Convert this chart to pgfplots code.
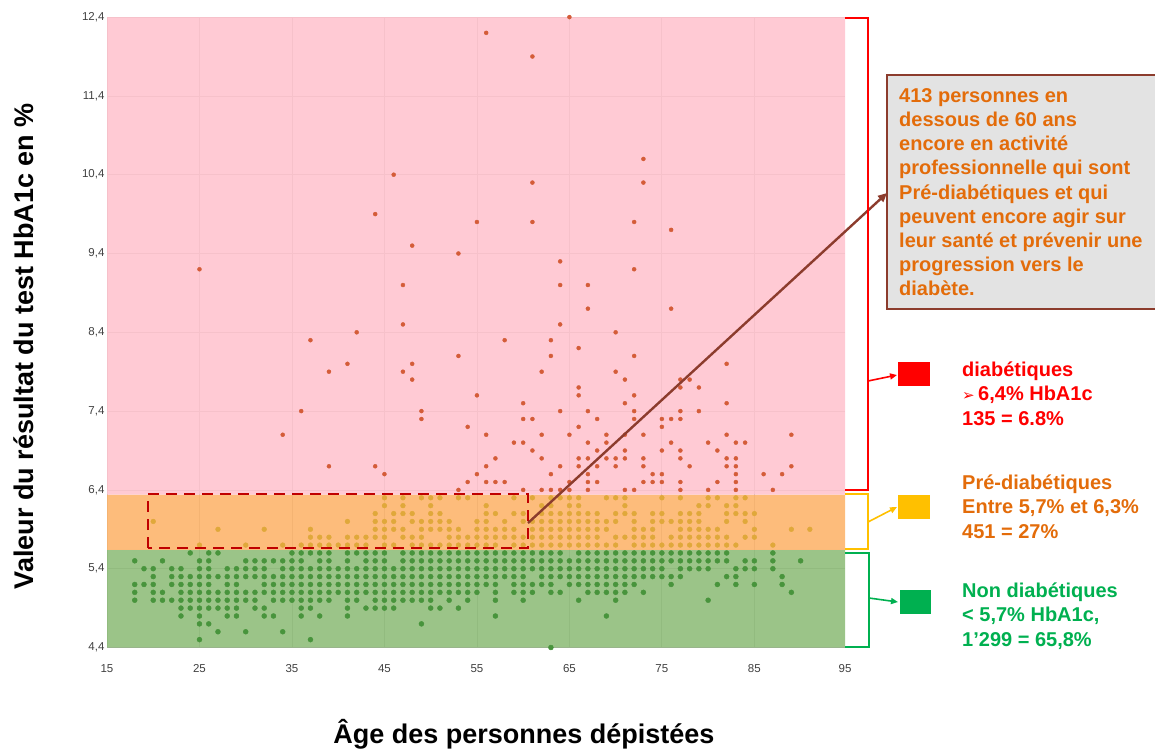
\documentclass[border=0pt]{standalone}
\usepackage{pgfplots}
\pgfplotsset{compat=1.18}
\usepackage{fontspec}
\setmainfont{Liberation Sans}
\newfontfamily\symb{DejaVu Sans}
\usetikzlibrary{arrows.meta}

\definecolor{bandpink}{RGB}{255,196,207}
\definecolor{bandorange}{RGB}{253,181,109}
\definecolor{bandgreen}{RGB}{144,190,123}
\definecolor{dotgreen}{RGB}{72,148,60}
\definecolor{dotorange}{RGB}{224,168,58}
\definecolor{dotred}{RGB}{212,92,56}
\definecolor{txtorange}{RGB}{227,108,10}
\definecolor{txtgreen}{RGB}{0,176,80}
\definecolor{brk}{RGB}{255,192,0}
\definecolor{arrowbrown}{RGB}{140,60,45}
\definecolor{dashred}{RGB}{192,0,0}

\begin{document}
\begin{tikzpicture}[x=1pt,y=-1pt]
\path[use as bounding box] (0,0) rectangle (1155,749);

\begin{axis}[
    at={(107pt,-647.5pt)},
    anchor=south west,
    scale only axis,
    width=738pt,
    height=630.4pt,
    xmin=15,xmax=94.8,
    ymin=4.4,ymax=12.4,
    xtick={15,25,...,85},
    ytick={4.4,5.4,...,12.4},
    yticklabels={{4,4},{5,4},{6,4},{7,4},{8,4},{9,4},{10,4},{11,4},{12,4}},
    clip=false,
    axis line style={draw=none},
    major tick length=0pt,
    grid=major,
    grid style={gray!70,line width=0.8pt},
    /pgf/number format/assume math mode=true,
    ticklabel style={font=\fontsize{11.5}{13}\selectfont,text=black!75},
    xticklabel style={yshift=-13pt,text height=8pt,text depth=0pt},
    yticklabel style={xshift=1pt},
    xlabel={\textbf{Âge des personnes dépistées}},
    xlabel style={at={(axis description cs:0.565,-0.137)},anchor=center,font=\fontsize{27}{30}\selectfont},
    ylabel={\textbf{Valeur du résultat du test HbA1c en \%}},
    ylabel style={at={(axis description cs:-0.1135,0.478)},anchor=center,font=\fontsize{27}{30}\selectfont},
]
% bands
\addplot[draw=none,fill=bandgreen,fill opacity=0.9] coordinates {(15,4.4) (94.8,4.4) (94.8,5.64) (15,5.64) (15,4.4)};
\addplot[draw=none,fill=bandorange,fill opacity=0.9] coordinates {(15,5.64) (94.8,5.64) (94.8,6.34) (15,6.34) (15,5.64)};
\addplot[draw=none,fill=bandpink,fill opacity=0.9] coordinates {(15,6.34) (94.8,6.34) (94.8,12.4) (15,12.4) (15,6.34)};

% non diabetiques
\addplot[only marks,mark=*,mark size=2.5pt,mark options={draw=dotgreen,fill=dotgreen,line width=0.4pt}] table[row sep=\\] {
x y\\
24 5.6\\ 26 5.6\\ 27 5.6\\ 35 5.6\\ 36 5.6\\ 37 5.6\\ 38 5.6\\ 39 5.6\\ 41 5.6\\ 42 5.6\\ 43 5.6\\ 44 5.6\\ 45 5.6\\ 47 5.6\\ 48 5.6\\ 49 5.6\\ 50 5.6\\ 51 5.6\\ 52 5.6\\ 53 5.6\\ 54 5.6\\ 55 5.6\\ 56 5.6\\ 57 5.6\\ 58 5.6\\ 59 5.6\\ 60 5.6\\ 61 5.6\\ 62 5.6\\ 63 5.6\\ 64 5.6\\ 66 5.6\\ 67 5.6\\ 68 5.6\\ 69 5.6\\ 70 5.6\\ 71 5.6\\ 72 5.6\\ 73 5.6\\ 74 5.6\\ 75 5.6\\ 76 5.6\\ 77 5.6\\ 78 5.6\\ 79 5.6\\ 80 5.6\\ 81 5.6\\ 82 5.6\\ 87 5.6\\
18 5.5\\ 21 5.5\\ 25 5.5\\ 26 5.5\\ 30 5.5\\ 31 5.5\\ 32 5.5\\ 33 5.5\\ 34 5.5\\ 35 5.5\\ 36 5.5\\ 38 5.5\\ 39 5.5\\ 41 5.5\\ 43 5.5\\ 44 5.5\\ 45 5.5\\ 47 5.5\\ 48 5.5\\ 49 5.5\\ 50 5.5\\ 51 5.5\\ 52 5.5\\ 53 5.5\\ 54 5.5\\ 55 5.5\\ 56 5.5\\ 57 5.5\\ 58 5.5\\ 59 5.5\\ 60 5.5\\ 61 5.5\\ 62 5.5\\ 63 5.5\\ 64 5.5\\ 65 5.5\\ 66 5.5\\ 67 5.5\\ 68 5.5\\ 69 5.5\\ 70 5.5\\ 71 5.5\\ 72 5.5\\ 73 5.5\\ 74 5.5\\ 75 5.5\\ 76 5.5\\ 77 5.5\\ 78 5.5\\ 79 5.5\\ 80 5.5\\ 81 5.5\\ 82 5.5\\ 84 5.5\\ 85 5.5\\ 87 5.5\\ 90 5.5\\
19 5.4\\ 20 5.4\\ 22 5.4\\ 23 5.4\\ 25 5.4\\ 26 5.4\\ 28 5.4\\ 29 5.4\\ 30 5.4\\ 31 5.4\\ 32 5.4\\ 34 5.4\\ 35 5.4\\ 36 5.4\\ 37 5.4\\ 38 5.4\\ 39 5.4\\ 40 5.4\\ 41 5.4\\ 42 5.4\\ 43 5.4\\ 44 5.4\\ 45 5.4\\ 46 5.4\\ 47 5.4\\ 48 5.4\\ 49 5.4\\ 50 5.4\\ 51 5.4\\ 52 5.4\\ 53 5.4\\ 54 5.4\\ 55 5.4\\ 56 5.4\\ 57 5.4\\ 58 5.4\\ 59 5.4\\ 60 5.4\\ 61 5.4\\ 62 5.4\\ 63 5.4\\ 64 5.4\\ 65 5.4\\ 66 5.4\\ 67 5.4\\ 68 5.4\\ 69 5.4\\ 70 5.4\\ 71 5.4\\ 72 5.4\\ 73 5.4\\ 74 5.4\\ 75 5.4\\ 77 5.4\\ 78 5.4\\ 79 5.4\\ 80 5.4\\ 83 5.4\\ 84 5.4\\ 85 5.4\\ 87 5.4\\
20 5.3\\ 22 5.3\\ 23 5.3\\ 24 5.3\\ 25 5.3\\ 26 5.3\\ 27 5.3\\ 28 5.3\\ 29 5.3\\ 30 5.3\\ 31 5.3\\ 32 5.3\\ 33 5.3\\ 34 5.3\\ 35 5.3\\ 36 5.3\\ 37 5.3\\ 38 5.3\\ 39 5.3\\ 40 5.3\\ 41 5.3\\ 42 5.3\\ 43 5.3\\ 44 5.3\\ 45 5.3\\ 46 5.3\\ 47 5.3\\ 48 5.3\\ 49 5.3\\ 50 5.3\\ 51 5.3\\ 52 5.3\\ 53 5.3\\ 54 5.3\\ 55 5.3\\ 56 5.3\\ 57 5.3\\ 58 5.3\\ 59 5.3\\ 60 5.3\\ 62 5.3\\ 63 5.3\\ 64 5.3\\ 65 5.3\\ 66 5.3\\ 67 5.3\\ 68 5.3\\ 69 5.3\\ 70 5.3\\ 71 5.3\\ 72 5.3\\ 73 5.3\\ 74 5.3\\ 75 5.3\\ 76 5.3\\ 77 5.3\\ 82 5.3\\ 83 5.3\\ 88 5.3\\
18 5.2\\ 19 5.2\\ 20 5.2\\ 22 5.2\\ 23 5.2\\ 24 5.2\\ 25 5.2\\ 26 5.2\\ 28 5.2\\ 29 5.2\\ 32 5.2\\ 33 5.2\\ 34 5.2\\ 35 5.2\\ 36 5.2\\ 37 5.2\\ 38 5.2\\ 39 5.2\\ 40 5.2\\ 41 5.2\\ 42 5.2\\ 43 5.2\\ 44 5.2\\ 45 5.2\\ 46 5.2\\ 47 5.2\\ 48 5.2\\ 49 5.2\\ 50 5.2\\ 51 5.2\\ 52 5.2\\ 53 5.2\\ 54 5.2\\ 55 5.2\\ 56 5.2\\ 57 5.2\\ 59 5.2\\ 60 5.2\\ 61 5.2\\ 62 5.2\\ 63 5.2\\ 65 5.2\\ 66 5.2\\ 67 5.2\\ 68 5.2\\ 69 5.2\\ 70 5.2\\ 71 5.2\\ 72 5.2\\ 76 5.2\\ 81 5.2\\ 83 5.2\\ 85 5.2\\ 88 5.2\\
18 5.1\\ 20 5.1\\ 21 5.1\\ 23 5.1\\ 24 5.1\\ 25 5.1\\ 26 5.1\\ 27 5.1\\ 28 5.1\\ 29 5.1\\ 30 5.1\\ 31 5.1\\ 32 5.1\\ 33 5.1\\ 34 5.1\\ 35 5.1\\ 36 5.1\\ 37 5.1\\ 38 5.1\\ 39 5.1\\ 40 5.1\\ 41 5.1\\ 42 5.1\\ 43 5.1\\ 44 5.1\\ 45 5.1\\ 46 5.1\\ 47 5.1\\ 48 5.1\\ 49 5.1\\ 50 5.1\\ 51 5.1\\ 52 5.1\\ 53 5.1\\ 54 5.1\\ 55 5.1\\ 57 5.1\\ 59 5.1\\ 60 5.1\\ 61 5.1\\ 63 5.1\\ 64 5.1\\ 67 5.1\\ 68 5.1\\ 69 5.1\\ 70 5.1\\ 71 5.1\\ 73 5.1\\ 89 5.1\\
18 5.0\\ 20 5.0\\ 21 5.0\\ 22 5.0\\ 23 5.0\\ 24 5.0\\ 25 5.0\\ 26 5.0\\ 27 5.0\\ 28 5.0\\ 29 5.0\\ 30 5.0\\ 31 5.0\\ 33 5.0\\ 34 5.0\\ 35 5.0\\ 36 5.0\\ 37 5.0\\ 38 5.0\\ 39 5.0\\ 41 5.0\\ 42 5.0\\ 44 5.0\\ 45 5.0\\ 46 5.0\\ 47 5.0\\ 48 5.0\\ 49 5.0\\ 50 5.0\\ 52 5.0\\ 54 5.0\\ 57 5.0\\ 60 5.0\\ 66 5.0\\ 70 5.0\\ 80 5.0\\
23 4.9\\ 24 4.9\\ 25 4.9\\ 26 4.9\\ 27 4.9\\ 28 4.9\\ 29 4.9\\ 31 4.9\\ 32 4.9\\ 36 4.9\\ 37 4.9\\ 41 4.9\\ 43 4.9\\ 44 4.9\\ 45 4.9\\ 46 4.9\\ 50 4.9\\ 51 4.9\\ 53 4.9\\
23 4.8\\ 25 4.8\\ 28 4.8\\ 29 4.8\\ 32 4.8\\ 33 4.8\\ 36 4.8\\ 38 4.8\\ 41 4.8\\ 57 4.8\\ 69 4.8\\
25 4.7\\ 26 4.7\\ 49 4.7\\
27 4.6\\ 30 4.6\\ 34 4.6\\
25 4.5\\ 37 4.5\\
63 4.4\\
};

% pre-diabetiques
\addplot[only marks,mark=*,mark size=2.4pt,mark options={draw=dotorange,fill=dotorange,line width=0.4pt}] table[row sep=\\] {
x y\\
25 5.7\\ 30 5.7\\ 34 5.7\\ 36 5.7\\ 37 5.7\\ 38 5.7\\ 39 5.7\\ 40 5.7\\ 41 5.7\\ 42 5.7\\ 43 5.7\\ 45 5.7\\ 46 5.7\\ 48 5.7\\ 49 5.7\\ 50 5.7\\ 51 5.7\\ 52 5.7\\ 53 5.7\\ 54 5.7\\ 55 5.7\\ 56 5.7\\ 57 5.7\\ 59 5.7\\ 60 5.7\\ 61 5.7\\ 62 5.7\\ 63 5.7\\ 64 5.7\\ 65 5.7\\ 66 5.7\\ 67 5.7\\ 68 5.7\\ 69 5.7\\ 70 5.7\\ 72 5.7\\ 73 5.7\\ 74 5.7\\ 75 5.7\\ 76 5.7\\ 77 5.7\\ 78 5.7\\ 79 5.7\\ 80 5.7\\ 81 5.7\\ 82 5.7\\ 83 5.7\\ 87 5.7\\
37 5.8\\ 38 5.8\\ 39 5.8\\ 41 5.8\\ 42 5.8\\ 43 5.8\\ 44 5.8\\ 45 5.8\\ 47 5.8\\ 48 5.8\\ 49 5.8\\ 52 5.8\\ 53 5.8\\ 54 5.8\\ 55 5.8\\ 56 5.8\\ 57 5.8\\ 58 5.8\\ 59 5.8\\ 60 5.8\\ 61 5.8\\ 62 5.8\\ 63 5.8\\ 64 5.8\\ 65 5.8\\ 66 5.8\\ 67 5.8\\ 68 5.8\\ 70 5.8\\ 71 5.8\\ 72 5.8\\ 73 5.8\\ 74 5.8\\ 76 5.8\\ 77 5.8\\ 78 5.8\\ 79 5.8\\ 80 5.8\\ 81 5.8\\ 82 5.8\\ 84 5.8\\ 85 5.8\\
27 5.9\\ 32 5.9\\ 37 5.9\\ 44 5.9\\ 45 5.9\\ 46 5.9\\ 47 5.9\\ 49 5.9\\ 50 5.9\\ 51 5.9\\ 52 5.9\\ 53 5.9\\ 55 5.9\\ 56 5.9\\ 57 5.9\\ 58 5.9\\ 59 5.9\\ 61 5.9\\ 62 5.9\\ 63 5.9\\ 64 5.9\\ 65 5.9\\ 66 5.9\\ 67 5.9\\ 68 5.9\\ 69 5.9\\ 72 5.9\\ 73 5.9\\ 74 5.9\\ 77 5.9\\ 78 5.9\\ 79 5.9\\ 80 5.9\\ 81 5.9\\ 85 5.9\\ 89 5.9\\ 91 5.9\\
20 6.0\\ 41 6.0\\ 44 6.0\\ 45 6.0\\ 46 6.0\\ 48 6.0\\ 49 6.0\\ 50 6.0\\ 51 6.0\\ 52 6.0\\ 55 6.0\\ 56 6.0\\ 58 6.0\\ 60 6.0\\ 61 6.0\\ 62 6.0\\ 63 6.0\\ 64 6.0\\ 65 6.0\\ 66 6.0\\ 67 6.0\\ 68 6.0\\ 69 6.0\\ 70 6.0\\ 72 6.0\\ 74 6.0\\ 75 6.0\\ 76 6.0\\ 77 6.0\\ 78 6.0\\ 79 6.0\\ 82 6.0\\ 84 6.0\\
44 6.1\\ 46 6.1\\ 47 6.1\\ 48 6.1\\ 50 6.1\\ 51 6.1\\ 56 6.1\\ 57 6.1\\ 59 6.1\\ 60 6.1\\ 62 6.1\\ 63 6.1\\ 64 6.1\\ 65 6.1\\ 66 6.1\\ 67 6.1\\ 68 6.1\\ 70 6.1\\ 71 6.1\\ 72 6.1\\ 74 6.1\\ 75 6.1\\ 77 6.1\\ 78 6.1\\ 79 6.1\\ 82 6.1\\ 83 6.1\\ 84 6.1\\ 85 6.1\\
45 6.2\\ 47 6.2\\ 50 6.2\\ 56 6.2\\ 62 6.2\\ 63 6.2\\ 65 6.2\\ 66 6.2\\ 71 6.2\\ 79 6.2\\ 80 6.2\\ 82 6.2\\ 83 6.2\\
45 6.3\\ 47 6.3\\ 49 6.3\\ 50 6.3\\ 51 6.3\\ 53 6.3\\ 54 6.3\\ 59 6.3\\ 61 6.3\\ 63 6.3\\ 64 6.3\\ 65 6.3\\ 66 6.3\\ 69 6.3\\ 70 6.3\\ 71 6.3\\ 75 6.3\\ 77 6.3\\ 80 6.3\\ 81 6.3\\ 83 6.3\\ 84 6.3\\
};

% diabetiques
\addplot[only marks,mark=*,mark size=2pt,mark options={draw=dotred,fill=dotred,line width=0.4pt}] table[row sep=\\] {
x y\\
53 6.4\\ 60 6.4\\ 62 6.4\\ 63 6.4\\ 64 6.4\\ 65 6.4\\ 67 6.4\\ 71 6.4\\ 72 6.4\\ 77 6.4\\ 80 6.4\\ 83 6.4\\ 87 6.4\\
54 6.5\\ 56 6.5\\ 57 6.5\\ 58 6.5\\ 65 6.5\\ 67 6.5\\ 68 6.5\\ 73 6.5\\ 74 6.5\\ 75 6.5\\ 77 6.5\\ 81 6.5\\ 83 6.5\\
45 6.6\\ 55 6.6\\ 63 6.6\\ 67 6.6\\ 74 6.6\\ 75 6.6\\ 83 6.6\\ 86 6.6\\ 88 6.6\\
39 6.7\\ 44 6.7\\ 56 6.7\\ 64 6.7\\ 66 6.7\\ 68 6.7\\ 70 6.7\\ 73 6.7\\ 78 6.7\\ 82 6.7\\ 83 6.7\\ 89 6.7\\
57 6.8\\ 62 6.8\\ 66 6.8\\ 67 6.8\\ 69 6.8\\ 70 6.8\\ 71 6.8\\ 73 6.8\\ 77 6.8\\ 82 6.8\\ 83 6.8\\
61 6.9\\ 68 6.9\\ 71 6.9\\ 75 6.9\\ 77 6.9\\ 81 6.9\\
59 7.0\\ 60 7.0\\ 67 7.0\\ 69 7.0\\ 76 7.0\\ 80 7.0\\ 83 7.0\\ 84 7.0\\
34 7.1\\ 56 7.1\\ 62 7.1\\ 65 7.1\\ 69 7.1\\ 71 7.1\\ 73 7.1\\ 82 7.1\\ 89 7.1\\
54 7.2\\ 66 7.2\\ 75 7.2\\
49 7.3\\ 60 7.3\\ 61 7.3\\ 68 7.3\\ 72 7.3\\ 75 7.3\\ 76 7.3\\ 77 7.3\\
36 7.4\\ 49 7.4\\ 64 7.4\\ 67 7.4\\ 72 7.4\\ 77 7.4\\ 79 7.4\\
60 7.5\\ 71 7.5\\ 82 7.5\\
55 7.6\\ 66 7.6\\ 72 7.6\\
66 7.7\\ 77 7.7\\ 79 7.7\\
48 7.8\\ 71 7.8\\ 77 7.8\\ 78 7.8\\
39 7.9\\ 47 7.9\\ 62 7.9\\ 70 7.9\\
41 8.0\\ 48 8.0\\ 82 8.0\\
53 8.1\\ 63 8.1\\ 72 8.1\\
66 8.2\\
37 8.3\\ 58 8.3\\ 63 8.3\\
42 8.4\\ 70 8.4\\
47 8.5\\ 64 8.5\\
67 8.7\\ 76 8.7\\
47 9.0\\ 64 9.0\\ 67 9.0\\
25 9.2\\ 72 9.2\\
64 9.3\\
53 9.4\\
48 9.5\\
76 9.7\\
55 9.8\\ 61 9.8\\ 72 9.8\\
44 9.9\\
61 10.3\\ 73 10.3\\
46 10.4\\
73 10.6\\
61 11.9\\
56 12.2\\
65 12.4\\
};
\node[font=\fontsize{11.5}{13}\selectfont,text=black!75,anchor=north,text height=8pt,text depth=0pt] at (axis cs:94.8,4.4) [yshift=-13pt] {95};
\end{axis}

% dashed box and arrow
\draw[dashred,line width=2.6pt,dash pattern=on 11pt off 7pt] (148,548) -- (148,494) -- (528,494) -- (528,548) -- cycle;
\draw[arrowbrown,line width=2.4pt,-{Triangle[length=9pt,width=8pt]}] (528,523) -- (887,193);

% brackets
\draw[red,line width=2.4pt] (845,18) -- (868,18) -- (868,490) -- (845,490);
\draw[brk,line width=2.4pt] (845,494) -- (868,494) -- (868,549) -- (845,549);
\draw[txtgreen,line width=2.4pt] (845,553) -- (869,553) -- (869,647) -- (845,647);

% call-out
\draw[arrowbrown,line width=2.4pt,fill=black!11] (887,75) rectangle (1156,309);
\node[anchor=north west,inner sep=0pt,align=left,text=txtorange,font=\fontsize{20}{24.1}\selectfont\bfseries] at (899,88.5) {413 personnes en\\dessous de 60 ans\\encore en activité\\professionnelle qui sont\\Pré-diabétiques et qui\\peuvent encore agir sur\\leur santé et prévenir une\\progression vers le\\diabète.};

% key
\fill[red] (898,362) rectangle (930,386);
\fill[brk] (898,495) rectangle (930,519);
\fill[txtgreen] (900,590) rectangle (931,614);
\draw[red,line width=1.6pt,-{Triangle[length=7pt,width=6pt]}] (868,381) -- (897,375);
\draw[brk,line width=1.6pt,-{Triangle[length=7pt,width=6pt]}] (868,522) -- (897,507);
\draw[txtgreen,line width=1.6pt,-{Triangle[length=7pt,width=6pt]}] (869,598) -- (898,602);

\node[anchor=north west,inner sep=0pt,align=left,text=red,font=\fontsize{20}{24.1}\selectfont\bfseries] at (962,362) {diabétiques\\\makebox[16pt][l]{\symb\fontsize{15}{24.1}\selectfont ➢}6,4\% HbA1c\\135 = 6.8\%};
\node[anchor=north west,inner sep=0pt,align=left,text=txtorange,font=\fontsize{20}{24.1}\selectfont\bfseries] at (962,475) {Pré-diabétiques\\Entre 5,7\% et 6,3\%\\451 = 27\%};
\node[anchor=north west,inner sep=0pt,align=left,text=txtgreen,font=\fontsize{20}{24.1}\selectfont\bfseries] at (962,583) {Non diabétiques\\< 5,7\% HbA1c,\\1’299 = 65,8\%};
\end{tikzpicture}
\end{document}
